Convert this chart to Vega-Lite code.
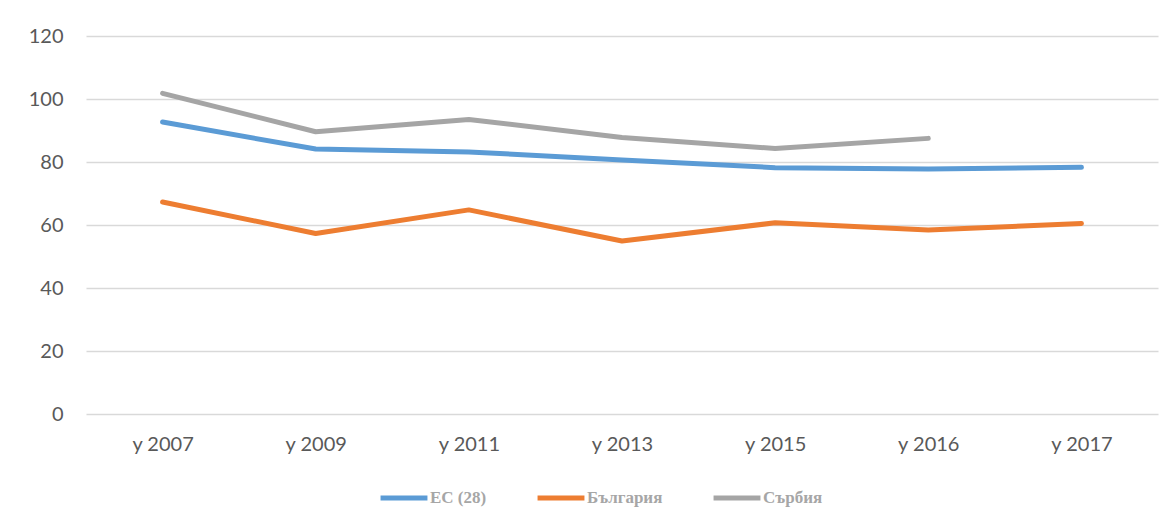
{
  "$schema": "https://vega.github.io/schema/vega-lite/v6.json",
  "autosize": {"type": "none"},
  "width": 1072,
  "height": 378,
  "padding": {"left": 86, "top": 36, "right": 17, "bottom": 117},
  "background": "white",
  "config": {
    "view": {"stroke": null},
    "font": "Lato"
  },
  "data": {
    "values": [
      {"year": "y 2007", "series": "ЕС (28)", "value": 92.7},
      {"year": "y 2009", "series": "ЕС (28)", "value": 84.1},
      {"year": "y 2011", "series": "ЕС (28)", "value": 83.2},
      {"year": "y 2013", "series": "ЕС (28)", "value": 80.6},
      {"year": "y 2015", "series": "ЕС (28)", "value": 78.2},
      {"year": "y 2016", "series": "ЕС (28)", "value": 77.8},
      {"year": "y 2017", "series": "ЕС (28)", "value": 78.3},
      {"year": "y 2007", "series": "България", "value": 67.3},
      {"year": "y 2009", "series": "България", "value": 57.3},
      {"year": "y 2011", "series": "България", "value": 64.8},
      {"year": "y 2013", "series": "България", "value": 54.9},
      {"year": "y 2015", "series": "България", "value": 60.7},
      {"year": "y 2016", "series": "България", "value": 58.4},
      {"year": "y 2017", "series": "България", "value": 60.5},
      {"year": "y 2007", "series": "Сърбия", "value": 101.8},
      {"year": "y 2009", "series": "Сърбия", "value": 89.6},
      {"year": "y 2011", "series": "Сърбия", "value": 93.5},
      {"year": "y 2013", "series": "Сърбия", "value": 87.8},
      {"year": "y 2015", "series": "Сърбия", "value": 84.3},
      {"year": "y 2016", "series": "Сърбия", "value": 87.5}
    ]
  },
  "mark": {"type": "line", "strokeWidth": 5, "strokeCap": "round", "strokeJoin": "round"},
  "encoding": {
    "x": {
      "field": "year",
      "type": "ordinal",
      "scale": {"type": "point", "padding": 0.5},
      "axis": {
        "title": null,
        "labelAngle": 0,
        "domain": false,
        "ticks": false,
        "labelPadding": 20,
        "labelFont": "Lato",
        "labelFontSize": 20,
        "labelColor": "#595959"
      }
    },
    "y": {
      "field": "value",
      "type": "quantitative",
      "scale": {"domain": [0, 120], "nice": false},
      "axis": {
        "title": null,
        "values": [0, 20, 40, 60, 80, 100, 120],
        "domain": false,
        "ticks": false,
        "labelPadding": 23,
        "labelFont": "Lato",
        "labelFontSize": 20,
        "labelColor": "#595959",
        "gridColor": "#D9D9D9",
        "gridWidth": 1.3
      }
    },
    "color": {
      "field": "series",
      "type": "nominal",
      "scale": {
        "domain": ["ЕС (28)", "България", "Сърбия"],
        "range": ["#5B9BD5", "#ED7D31", "#A5A5A5"]
      },
      "legend": {
        "title": null,
        "orient": "none",
        "direction": "horizontal",
        "legendX": 292,
        "legendY": 436,
        "symbolType": "stroke",
        "symbolSize": 2200,
        "symbolStrokeWidth": 5,
        "labelFont": "Liberation Serif",
        "labelFontWeight": "bold",
        "labelFontSize": 17,
        "labelColor": "#A6A6A6",
        "labelOffset": 0,
        "columnPadding": 40
      }
    }
  }
}
